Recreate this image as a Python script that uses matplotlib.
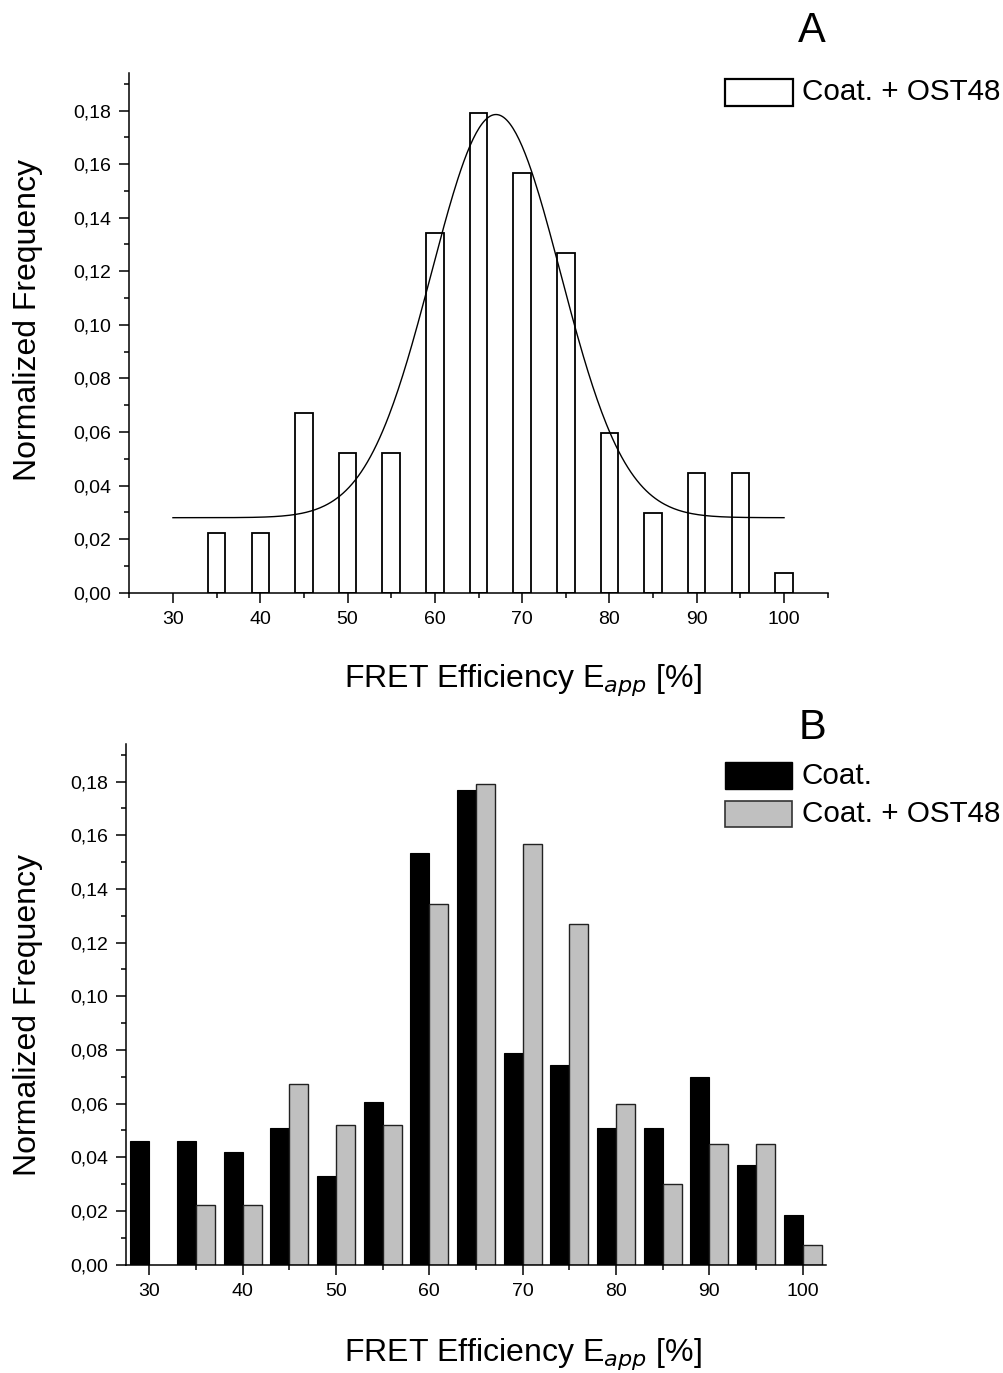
import numpy as np
import matplotlib
matplotlib.use("Agg")
import matplotlib.pyplot as plt
from matplotlib.patches import Rectangle
from matplotlib.ticker import FuncFormatter, MultipleLocator

plt.rcParams['font.family'] = ['Liberation Sans', 'DejaVu Sans']

# ---------------- data ----------------
bins = [30, 35, 40, 45, 50, 55, 60, 65, 70, 75, 80, 85, 90, 95, 100]
coat = [0.046, 0.046, 0.042, 0.051, 0.033, 0.0605, 0.1535, 0.177, 0.079,
        0.0745, 0.051, 0.051, 0.070, 0.037, 0.0185]
coat_ost48 = [0.0, 0.0224, 0.0224, 0.0672, 0.0522, 0.0522, 0.1343, 0.1791,
              0.1567, 0.1269, 0.0597, 0.0299, 0.0448, 0.0448, 0.0075]
# Gaussian fit of "Coat. + OST48" (panel A)
fit_y0 = 0.028
fit_height = 0.1505
fit_xc = 67.0
fit_sigma = 7.4
fit_range = (30, 100)

legend_a = ["Coat. + OST48"]
legend_b = ["Coat.", "Coat. + OST48"]
xlabel_main = "FRET Efficiency E"
ylabel_text = "Normalized Frequency"

# ---------------- layout helpers ----------------
W, H = 1004, 1373
fig = plt.figure(figsize=(W / 100, H / 100), dpi=100)

def rect(l, t, r, b):
    return [l / W, 1 - b / H, (r - l) / W, (b - t) / H]

def fx(px):
    return px / W

def fy(py):
    return 1 - py / H

fmt = FuncFormatter(lambda v, p: f"{v:.2f}".replace('.', ','))

def style_axes(ax, xlim):
    ax.set_xlim(*xlim)
    ax.set_ylim(0, 0.194)
    for s in ['top', 'right']:
        ax.spines[s].set_visible(False)
    for s in ['left', 'bottom']:
        ax.spines[s].set_linewidth(1.1)
    ax.xaxis.set_major_locator(MultipleLocator(10))
    ax.xaxis.set_minor_locator(MultipleLocator(5))
    ax.yaxis.set_major_locator(MultipleLocator(0.02))
    ax.yaxis.set_minor_locator(MultipleLocator(0.01))
    ax.yaxis.set_major_formatter(fmt)
    ax.tick_params(which='major', direction='out', length=7, width=1.1,
                   labelsize=14, pad=6)
    ax.tick_params(which='minor', direction='out', length=3.5, width=1.1)

# ---------------- panel A ----------------
axA = fig.add_axes(rect(129.3, 73, 827.7, 592.7))
x = np.array(bins, dtype=float)
axA.bar(x[1:], coat_ost48[1:], width=2.0, color='white', edgecolor='black',
        linewidth=1.3, zorder=2)
xf = np.linspace(fit_range[0], fit_range[1], 400)
yf = fit_y0 + fit_height * np.exp(-(xf - fit_xc) ** 2 / (2 * fit_sigma ** 2))
axA.plot(xf, yf, color='black', linewidth=1.0, zorder=3)
style_axes(axA, (25, 105))
axA.set_xticks([30, 40, 50, 60, 70, 80, 90, 100])

# ---------------- panel B ----------------
axB = fig.add_axes(rect(126, 744, 826, 1264.7))
bw = 2.05
axB.bar(x - bw / 2, coat, width=bw, color='black', edgecolor='black',
        linewidth=0.8, zorder=2)
axB.bar(x[1:] + bw / 2, coat_ost48[1:], width=bw, color='#c0c0c0',
        edgecolor='#222222', linewidth=1.0, zorder=2)
style_axes(axB, (27.5, 102.5))

# ---------------- axis labels (figure text) ----------------
for cy in (320, 1015):
    fig.text(fx(28), fy(cy), ylabel_text, rotation=90, ha='center',
             va='center', fontsize=23)
lab = xlabel_main + r"$_{\mathit{app}}$" + " [%]"
for by in (687, 1361):
    fig.text(fx(523), fy(by), lab, ha='center', va='baseline', fontsize=23)

# panel letters
fig.text(fx(812), fy(42), "A", ha='center', va='baseline', fontsize=30)
fig.text(fx(813), fy(739), "B", ha='center', va='baseline', fontsize=30)

# ---------------- legends ----------------
def leg_box(l, t, r, b, fc, ec, lw):
    fig.patches.append(Rectangle((fx(l), fy(b)), fx(r) - fx(l), fy(t) - fy(b),
                                 transform=fig.transFigure, facecolor=fc,
                                 edgecolor=ec, linewidth=lw))

leg_box(725, 79, 793, 106, 'white', 'black', 1.6)
fig.text(fx(802), fy(92.5), legend_a[0], ha='left', va='center', fontsize=21.3)

leg_box(725, 762, 792, 789, 'black', 'black', 1.0)
fig.text(fx(802), fy(775.5), legend_b[0], ha='left', va='center', fontsize=21.3)
leg_box(725, 801, 792, 827, '#c0c0c0', '#333333', 1.2)
fig.text(fx(802), fy(814), legend_b[1], ha='left', va='center', fontsize=21.3)

fig.savefig("out.png", dpi=100)
